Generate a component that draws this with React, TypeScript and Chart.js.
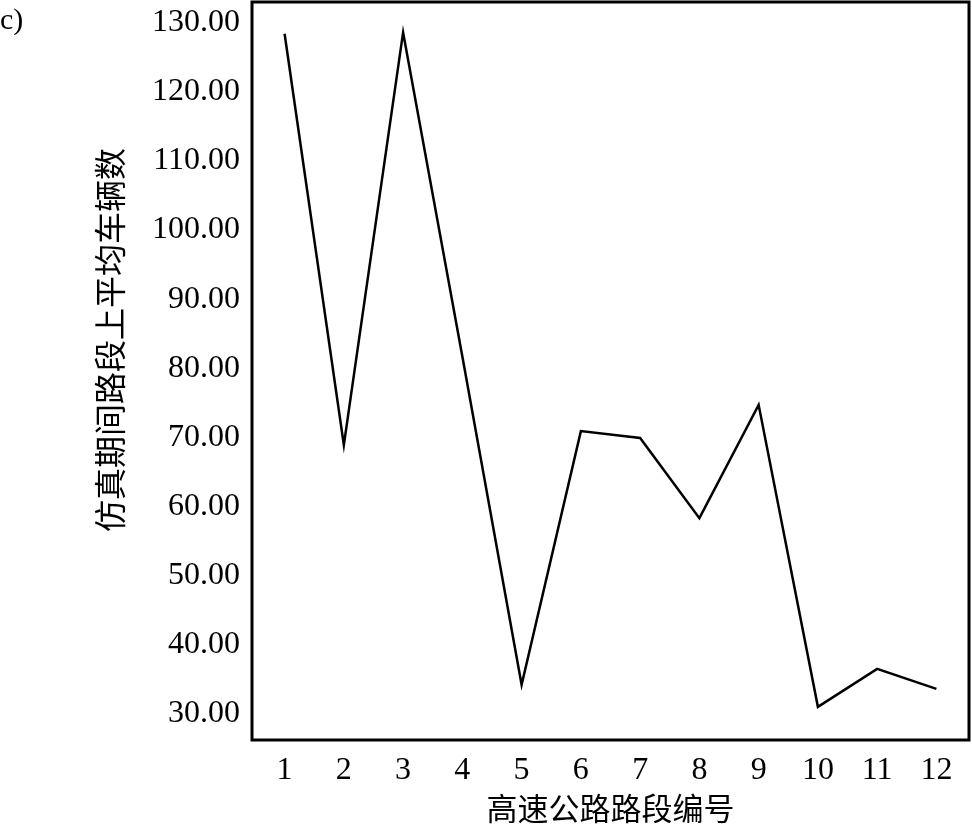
import React, { useEffect, useRef } from "react";
import { Chart, registerables } from "chart.js";

Chart.register(...registerables);

const segments = [1, 2, 3, 4, 5, 6, 7, 8, 9, 10, 11, 12];
const avgVehicles = [128.4, 68.9, 128.6, 81.7, 34.2, 70.9, 69.9, 58.3, 74.7, 31.0, 36.5, 33.6];
const yTicks = [30, 40, 50, 60, 70, 80, 90, 100, 110, 120, 130];
const xTitle = "高速公路路段编号";
const yTitle = "仿真期间路段上平均车辆数";
const panelLabel = "c)";

const serif = "'Liberation Serif', 'Times New Roman', serif";
const cjk = "'Noto Sans CJK SC', sans-serif";

const boxPlugin = {
  id: "box",
  afterDraw(chart: any) {
    const { ctx, chartArea } = chart;
    ctx.save();
    ctx.strokeStyle = "#000";
    ctx.lineWidth = 3;
    ctx.strokeRect(chartArea.left, chartArea.top, chartArea.right - chartArea.left, chartArea.bottom - chartArea.top);
    // y axis title, shifted slightly above the plot's vertical centre as in the reference
    ctx.fillStyle = "#000";
    ctx.font = `32px ${cjk}`;
    ctx.textAlign = "center";
    ctx.textBaseline = "middle";
    ctx.translate(110, (chartArea.top + chartArea.bottom) / 2 - 31);
    ctx.rotate(-Math.PI / 2);
    ctx.fillText(yTitle, 0, 0);
    ctx.restore();
  },
};

export default function App() {
  const ref = useRef<HTMLCanvasElement>(null);
  useEffect(() => {
    if (!ref.current) return;
    const chart = new Chart(ref.current, {
      type: "line",
      data: {
        datasets: [
          {
            data: segments.map((s, i) => ({ x: s, y: avgVehicles[i] })),
            borderColor: "#000",
            borderWidth: 2.5,
            pointRadius: 0,
            tension: 0,
            fill: false,
          },
        ],
      },
      options: {
        animation: false,
        responsive: false,
        events: [],
        layout: { padding: { top: 2, right: 3, left: 0, bottom: 0 } },
        plugins: { legend: { display: false }, tooltip: { enabled: false } },
        scales: {
          x: {
            type: "linear",
            min: 0.45,
            max: 12.55,
            grid: { display: false, drawTicks: false },
            border: { display: false },
            afterBuildTicks: (scale: any) => {
              scale.ticks = segments.map((v) => ({ value: v }));
            },
            afterFit: (scale: any) => {
              scale.height = 88;
              scale.paddingLeft = 0;
              scale.paddingRight = 0;
            },
            ticks: {
              color: "#000",
              padding: 11,
              maxRotation: 0,
              autoSkip: false,
              font: { family: serif, size: 32 },
              callback: (v: any) => String(v),
            },
            title: {
              display: true,
              text: xTitle,
              color: "#000",
              font: { family: cjk, size: 31 },
              padding: { top: 0, bottom: 1 },
            },
          },
          y: {
            min: 26.2,
            max: 133,
            grid: { display: false, drawTicks: false },
            border: { display: false },
            afterBuildTicks: (scale: any) => {
              scale.ticks = yTicks.map((v) => ({ value: v }));
            },
            afterFit: (scale: any) => {
              scale.width = 252;
              scale.paddingTop = 0;
              scale.paddingBottom = 0;
            },
            ticks: {
              color: "#000",
              padding: 12,
              font: { family: serif, size: 32 },
              callback: (v: any) => Number(v).toFixed(2),
            },
            title: { display: false },
          },
        },
      },
      plugins: [boxPlugin],
    });
    return () => chart.destroy();
  }, []);
  return (
    <div style={{ position: "absolute", left: 0, top: 0, width: 972, height: 828, background: "#fff" }}>
      <canvas ref={ref} width={972} height={828} style={{ display: "block" }} />
      <div
        style={{
          position: "absolute",
          left: 0,
          top: 2,
          fontFamily: serif,
          fontSize: 30,
          lineHeight: "34px",
          color: "#000",
        }}
      >
        {panelLabel}
      </div>
    </div>
  );
}
